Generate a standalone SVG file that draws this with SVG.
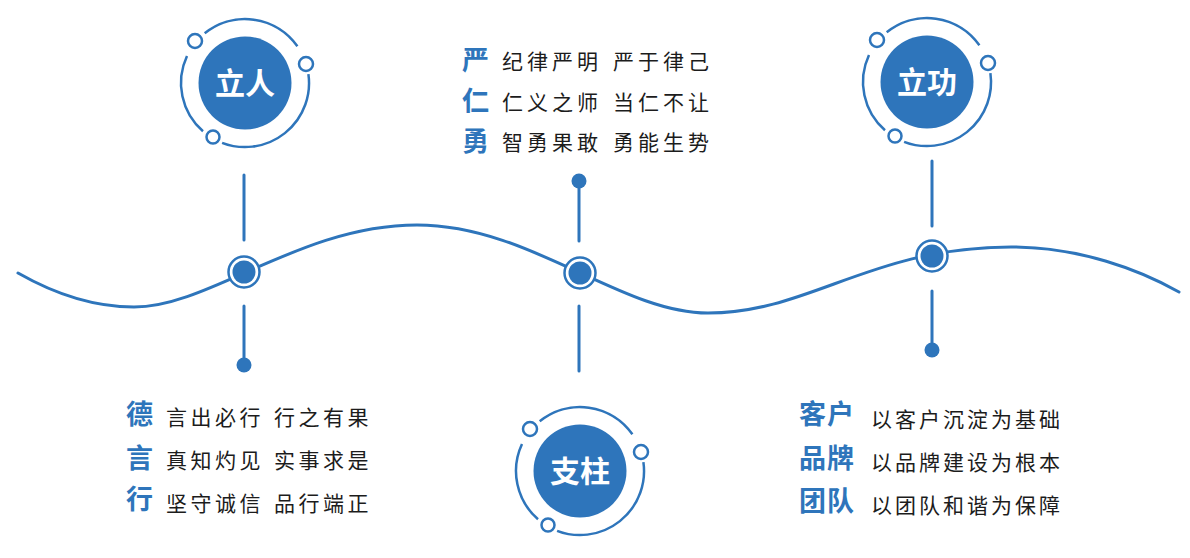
<svg xmlns="http://www.w3.org/2000/svg" width="1190" height="558" viewBox="0 0 1190 558">
<defs>
<style>
.ring{fill:none;stroke:#2e75bb;stroke-width:2.5}
.sm{fill:#fff;stroke:#2e75bb;stroke-width:2.5}
.big{fill:#2e75bb}
.lbl{font-family:"Noto Sans CJK SC","Noto Sans",sans-serif;font-size:30px;font-weight:700;fill:#fff;text-anchor:middle}
.line{stroke:#2e75bb;stroke-width:3;stroke-linecap:round;fill:none}
.dot{fill:#2e75bb}
.nodeo{fill:#fff;stroke:#2e75bb;stroke-width:2.5}
.hd{font-family:"Noto Sans CJK SC","Noto Sans",sans-serif;font-size:27px;font-weight:700;fill:#2e75bb}
.tx{font-family:"Noto Sans CJK SC","Noto Sans",sans-serif;font-size:21px;fill:#1c1c1c;letter-spacing:4px}
</style>
<g id="badge">
<path class="ring" d="M-40.3,-49.7 A64,64 0 0 1 52.4,-36.7"/>
<path class="ring" d="M63.4,-8.9 A64,64 0 0 1 -22.9,59.8"/>
<path class="ring" d="M-42,48.3 A64,64 0 0 1 -58,-27"/>
<circle class="sm" cx="-50" cy="-42" r="7"/>
<circle class="sm" cx="61" cy="-19" r="7"/>
<circle class="sm" cx="-32" cy="54" r="6.5"/>
<circle class="big" cx="0" cy="0" r="46.5"/>
</g>
</defs>
<rect width="1190" height="558" fill="#fff"/>
<g id="connectors">
<path class="line" d="M18,273 C60,297 100,307 134,307 C210,307 300,225 417,225 C530,225 620,313 708,313 C810,313 870,247 1011,247 C1080,247 1140,270 1179,292" stroke-width="2.6"/>
<line class="line" x1="244" y1="175" x2="244" y2="240"/>
<line class="line" x1="244" y1="306" x2="244" y2="362"/>
<line class="line" x1="579" y1="181" x2="579" y2="241"/>
<line class="line" x1="579" y1="306" x2="579" y2="371"/>
<line class="line" x1="932" y1="161" x2="932" y2="226"/>
<line class="line" x1="932" y1="291" x2="932" y2="349"/>
<circle class="dot" cx="244" cy="365" r="7.5"/>
<circle class="dot" cx="579" cy="181" r="7.5"/>
<circle class="dot" cx="932" cy="350" r="7.5"/>
</g>
<g id="node-1">
<circle class="nodeo" cx="244" cy="272" r="15.5"/>
<circle class="dot" cx="244" cy="272" r="11.5"/>
</g>
<g id="node-2">
<circle class="nodeo" cx="580" cy="273" r="15.5"/>
<circle class="dot" cx="580" cy="273" r="11.5"/>
</g>
<g id="node-3">
<circle class="nodeo" cx="932" cy="256" r="15.5"/>
<circle class="dot" cx="932" cy="256" r="11.5"/>
</g>
<g id="badge-liren">
<use href="#badge" transform="translate(245,83)"/>
<text class="lbl" x="245" y="94">立人</text>
</g>
<g id="badge-zhizhu">
<use href="#badge" transform="translate(580,471)"/>
<text class="lbl" x="580" y="482">支柱</text>
</g>
<g id="badge-ligong">
<use href="#badge" transform="translate(927,82)"/>
<text class="lbl" x="927" y="93">立功</text>
</g>
<g id="text-top">
<text class="hd" x="462" y="70">严</text>
<text class="hd" x="462" y="111">仁</text>
<text class="hd" x="462" y="151">勇</text>
<text class="tx" y="69"><tspan x="502">纪律严明</tspan><tspan x="613">严于律己</tspan></text>
<text class="tx" y="110"><tspan x="502">仁义之师</tspan><tspan x="613">当仁不让</tspan></text>
<text class="tx" y="150"><tspan x="502">智勇果敢</tspan><tspan x="613">勇能生势</tspan></text>
</g>
<g id="text-left">
<text class="hd" x="126" y="424">德</text>
<text class="hd" x="126" y="468">言</text>
<text class="hd" x="126" y="509">行</text>
<text class="tx" y="425" style="letter-spacing:3.5px"><tspan x="166">言出必行</tspan><tspan x="274">行之有果</tspan></text>
<text class="tx" y="468" style="letter-spacing:3.5px"><tspan x="166">真知灼见</tspan><tspan x="274">实事求是</tspan></text>
<text class="tx" y="511" style="letter-spacing:3.5px"><tspan x="166">坚守诚信</tspan><tspan x="274">品行端正</tspan></text>
</g>
<g id="text-right">
<text class="hd" x="799" y="424" style="letter-spacing:1px">客户</text>
<text class="hd" x="799" y="468" style="letter-spacing:1px">品牌</text>
<text class="hd" x="799" y="511" style="letter-spacing:1px">团队</text>
<text class="tx" x="871" y="427" style="letter-spacing:3px">以客户沉淀为基础</text>
<text class="tx" x="871" y="470" style="letter-spacing:3px">以品牌建设为根本</text>
<text class="tx" x="871" y="513" style="letter-spacing:3px">以团队和谐为保障</text>
</g>
</svg>
